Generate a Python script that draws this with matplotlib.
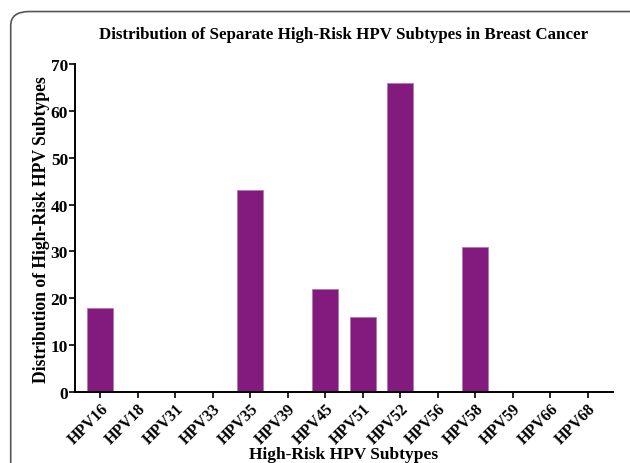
import matplotlib
matplotlib.use('Agg')
import matplotlib.pyplot as plt
from matplotlib.patches import FancyBboxPatch
import numpy as np

# Data
subtypes = ['HPV16', 'HPV18', 'HPV31', 'HPV33', 'HPV35', 'HPV39', 'HPV45',
            'HPV51', 'HPV52', 'HPV56', 'HPV58', 'HPV59', 'HPV66', 'HPV68']
counts = [18, 0, 0, 0, 43, 0, 22, 16, 66, 0, 31, 0, 0, 0]
y_ticks = [0, 10, 20, 30, 40, 50, 60, 70]

plt.rcParams['font.family'] = ['Liberation Serif', 'DejaVu Serif']
plt.rcParams['font.weight'] = 'bold'

fig = plt.figure(figsize=(6.3, 4.64), dpi=100)

# Rounded frame around the figure (runs off the right and bottom edges)
frame = FancyBboxPatch((0.017, -0.2), 1.2, 1.173, transform=fig.transFigure,
                       boxstyle='round,pad=0,rounding_size=0.03',
                       facecolor='none', edgecolor='#555555', linewidth=1.2)
fig.patches.append(frame)

ax = fig.add_axes([0.119, 0.153, 0.854, 0.707])
x = np.arange(len(subtypes))
ax.bar(x, counts, width=0.7, color='#831a7e', edgecolor='#b07aae', linewidth=0.6)

ax.set_xlim(-0.67, len(subtypes) - 0.33)
ax.set_ylim(0, 70)
ax.set_yticks(y_ticks)
ax.set_xticks(x)
ax.set_xticklabels(subtypes, rotation=45, ha='right', rotation_mode='anchor')

for side in ['top', 'right']:
    ax.spines[side].set_visible(False)
for side in ['left', 'bottom']:
    ax.spines[side].set_linewidth(1.4)

ax.tick_params(axis='y', labelsize=12.5, width=1.2, length=4, pad=1)
ax.tick_params(axis='x', labelsize=11.5, width=1.2, length=4, pad=2)
for lbl in ax.get_xticklabels() + ax.get_yticklabels():
    lbl.set_fontweight('bold')

ax.set_title('Distribution of Separate High-Risk HPV Subtypes in Breast Cancer',
             fontsize=12.2, fontweight='bold', pad=19)

# Axis titles placed in figure coordinates to keep them inside the canvas
fig.text(0.545, 0.002, 'High-Risk HPV Subtypes', ha='center', va='bottom',
         fontsize=12.5, fontweight='bold')
fig.text(0.066, 0.505, 'Distribution of High-Risk HPV Subtypes', ha='center',
         va='center', rotation=90, fontsize=12.7, fontweight='bold')

fig.savefig('out.png', dpi=100)
